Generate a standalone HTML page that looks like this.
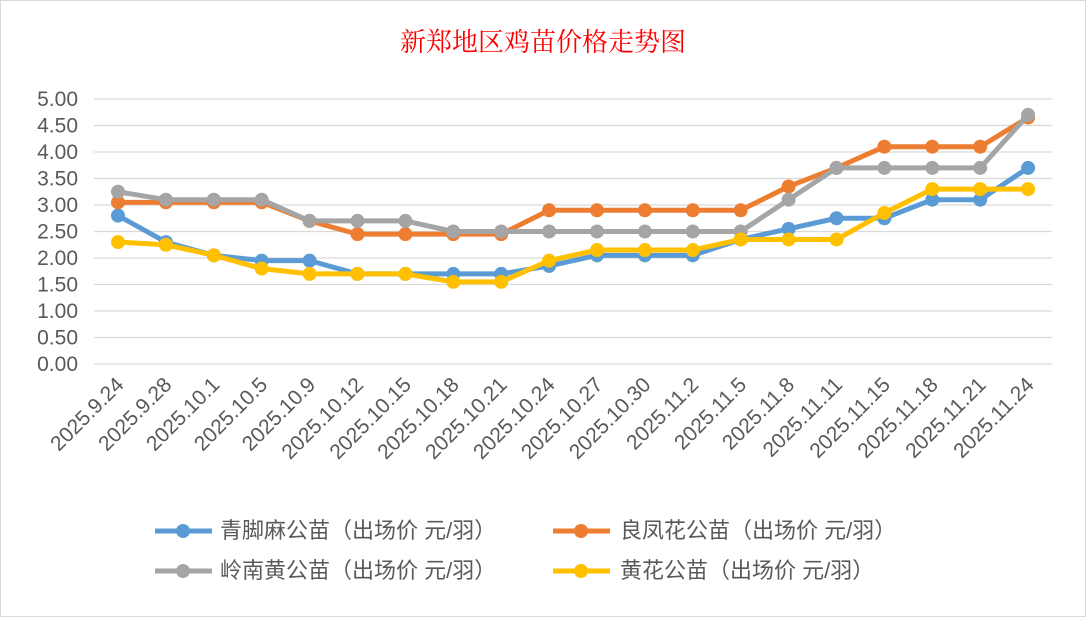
<!DOCTYPE html>
<html><head><meta charset="utf-8"><style>
body{margin:0;background:#fff;}
svg{display:block;font-family:"Liberation Sans","Noto Sans CJK SC",sans-serif;}
</style></head><body>
<svg width="1086" height="617" viewBox="0 0 1086 617">
<rect x="0.5" y="0.5" width="1085" height="616" fill="#fff" stroke="#d9d9d9"/>
<text x="543" y="51" text-anchor="middle" font-size="26" fill="#ff0000" font-family="'Noto Serif CJK SC','Noto Sans CJK SC',serif">新郑地区鸡苗价格走势图</text>
<g id="grid" stroke="#d9d9d9" stroke-width="1.3"></g>
<g id="ylab" font-size="21" fill="#595959" text-anchor="end"></g>
<g id="xlab" font-size="21" fill="#595959" text-anchor="end"></g>
<g id="series"></g>
<g font-size="22" fill="#595959">
<line x1="155" y1="531" x2="212" y2="531" stroke="#5b9bd5" stroke-width="5"/><circle cx="183" cy="531" r="7" fill="#5b9bd5"/>
<text x="220" y="538">青脚麻公苗（出场价 元/羽）</text>
<line x1="553" y1="531" x2="610" y2="531" stroke="#ed7d31" stroke-width="5"/><circle cx="581" cy="531" r="7" fill="#ed7d31"/>
<text x="620" y="538">良凤花公苗（出场价 元/羽）</text>
<line x1="155" y1="571" x2="212" y2="571" stroke="#a5a5a5" stroke-width="5"/><circle cx="183" cy="571" r="7" fill="#a5a5a5"/>
<text x="220" y="578">岭南黄公苗（出场价 元/羽）</text>
<line x1="553" y1="571" x2="610" y2="571" stroke="#ffc000" stroke-width="5"/><circle cx="581" cy="571" r="7" fill="#ffc000"/>
<text x="620" y="578">黄花公苗（出场价 元/羽）</text>
</g>
</svg>
<script>
const ns="http://www.w3.org/2000/svg";
function el(p,t,a,txt){const e=document.createElementNS(ns,t);for(const k in a)e.setAttribute(k,a[k]);if(txt)e.textContent=txt;document.getElementById(p).appendChild(e);}
const y0=364,k=53,x0=118,dx=47.9;
for(let i=0;i<=10;i++){const y=y0-i*0.5*k;el("grid","line",{x1:94,x2:1052,y1:y,y2:y});el("ylab","text",{x:78,y:y+7},(i*0.5).toFixed(2));}
const labs=["2025.9.24","2025.9.28","2025.10.1","2025.10.5","2025.10.9","2025.10.12","2025.10.15","2025.10.18","2025.10.21","2025.10.24","2025.10.27","2025.10.30","2025.11.2","2025.11.5","2025.11.8","2025.11.11","2025.11.15","2025.11.18","2025.11.21","2025.11.24"];
labs.forEach((l,i)=>{const x=x0+i*dx+7,y=386;el("xlab","text",{x:x,y:y,transform:`rotate(-45 ${x} ${y})`},l);});
const S=[
["#5b9bd5",[2.8,2.3,2.05,1.95,1.95,1.7,1.7,1.7,1.7,1.85,2.05,2.05,2.05,2.35,2.55,2.75,2.75,3.1,3.1,3.7]],
["#ed7d31",[3.05,3.05,3.05,3.05,2.7,2.45,2.45,2.45,2.45,2.9,2.9,2.9,2.9,2.9,3.35,3.7,4.1,4.1,4.1,4.65]],
["#a5a5a5",[3.25,3.1,3.1,3.1,2.7,2.7,2.7,2.5,2.5,2.5,2.5,2.5,2.5,2.5,3.1,3.7,3.7,3.7,3.7,4.7]],
["#ffc000",[2.3,2.25,2.05,1.8,1.7,1.7,1.7,1.55,1.55,1.95,2.15,2.15,2.15,2.35,2.35,2.35,2.85,3.3,3.3,3.3]]];
S.forEach(([c,d])=>{const pts=d.map((v,i)=>`${x0+i*dx},${y0-v*k}`).join(" ");
el("series","polyline",{points:pts,fill:"none",stroke:c,"stroke-width":5,"stroke-linejoin":"round"});
d.forEach((v,i)=>el("series","circle",{cx:x0+i*dx,cy:y0-v*k,r:7,fill:c}));});
</script>
</body></html>
